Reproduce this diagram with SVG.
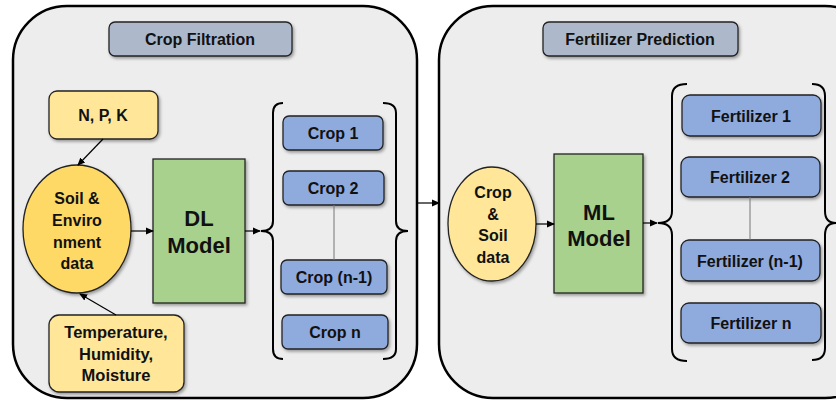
<svg xmlns="http://www.w3.org/2000/svg" width="836" height="400" viewBox="0 0 836 400">
<defs>
<style>
text{font-family:"Liberation Sans",Arial,sans-serif;font-weight:bold;fill:#111;text-anchor:middle}
.panel{fill:#EDEDED;stroke:#000;stroke-width:2.5}
.title{fill:#ADB9CA;stroke:#222;stroke-width:1.3}
.ybox{fill:#FFE699;stroke:#222;stroke-width:1.3}
.blue{fill:#8FAADC;stroke:#222;stroke-width:1.3}
.green{fill:#A9D18E;stroke:#222;stroke-width:1.3}
.brace{fill:none;stroke:#000;stroke-width:2}
.conn{stroke:#000;stroke-width:1.2;fill:none}
.thin{stroke:#777;stroke-width:1;fill:none}
.t16{font-size:16px}
.t165{font-size:16.5px}
.big{font-size:22px}
</style>
<filter id="sh" x="-20%" y="-20%" width="140%" height="150%">
<feDropShadow dx="1.5" dy="2" stdDeviation="1.5" flood-color="#000" flood-opacity="0.35"/>
</filter>
<marker id="ar" markerWidth="8" markerHeight="8" refX="7" refY="4" orient="auto" markerUnits="userSpaceOnUse">
<path d="M0,0.5 L8,4 L0,7.5 Z" fill="#000"/>
</marker>
</defs>

<g id="panel-left"><rect class="panel" x="13" y="6" width="404" height="392" rx="54"/></g>
<g id="panel-right"><rect class="panel" x="439" y="6" width="440" height="392" rx="54"/></g>

<g id="title-crop"><rect class="title" filter="url(#sh)" x="109" y="22" width="183" height="34" rx="6"/><text class="t16" x="200" y="45">Crop Filtration</text></g>
<g id="title-fert"><rect class="title" filter="url(#sh)" x="543" y="22" width="195" height="34" rx="6"/><text class="t16" x="640" y="45">Fertilizer Prediction</text></g>

<g id="npk"><rect class="ybox" filter="url(#sh)" x="49" y="91" width="109" height="48" rx="8"/><text class="t16" x="103" y="121">N, P, K</text></g>

<g id="soil-env"><ellipse fill="#FFD966" stroke="#222" stroke-width="1.3" filter="url(#sh)" cx="77" cy="229" rx="54" ry="64"/>
<text class="t16" x="77" y="204">Soil &amp;</text><text class="t16" x="77" y="226">Enviro</text><text class="t16" x="77" y="248">nment</text><text class="t16" x="77" y="269">data</text></g>

<g id="temp"><rect class="ybox" filter="url(#sh)" x="49" y="315" width="135" height="77" rx="10"/>
<text class="t165" x="116" y="338">Temperature,</text><text class="t165" x="116" y="360">Humidity,</text><text class="t165" x="116" y="381">Moisture</text></g>

<g id="dl"><rect class="green" filter="url(#sh)" x="153" y="159" width="92" height="144"/>
<text class="big" x="199" y="226">DL</text><text class="big" x="199" y="253">Model</text></g>

<g id="crop1"><rect class="blue" filter="url(#sh)" x="283" y="116" width="100" height="34" rx="6"/><text class="t16" x="333" y="139">Crop 1</text></g>
<g id="crop2"><rect class="blue" filter="url(#sh)" x="283" y="171" width="101" height="34" rx="6"/><text class="t16" x="333" y="194">Crop 2</text></g>
<g id="cropn1"><rect class="blue" filter="url(#sh)" x="281" y="260" width="106" height="34" rx="6"/><text class="t16" x="334" y="283">Crop (n-1)</text></g>
<g id="cropn"><rect class="blue" filter="url(#sh)" x="282" y="315" width="106" height="34" rx="6"/><text class="t16" x="335" y="338">Crop n</text></g>

<g id="crop-soil"><ellipse fill="#FFE699" stroke="#222" stroke-width="1.3" filter="url(#sh)" cx="492" cy="224" rx="44" ry="57"/>
<text class="t16" x="493" y="198">Crop</text><text class="t16" x="493" y="220">&amp;</text><text class="t16" x="493" y="241">Soil</text><text class="t16" x="493" y="263">data</text></g>

<g id="ml"><rect class="green" filter="url(#sh)" x="554" y="154" width="89" height="139"/>
<text class="big" x="599" y="220">ML</text><text class="big" x="599" y="246">Model</text></g>

<g id="fert1"><rect class="blue" filter="url(#sh)" x="682" y="95" width="139" height="41" rx="8"/><text class="t16" x="751" y="122">Fertilizer 1</text></g>
<g id="fert2"><rect class="blue" filter="url(#sh)" x="681" y="157" width="139" height="40" rx="8"/><text class="t16" x="750" y="183">Fertilizer 2</text></g>
<g id="fertn1"><rect class="blue" filter="url(#sh)" x="681" y="240" width="139" height="41" rx="8"/><text class="t16" x="750" y="267">Fertilizer (n-1)</text></g>
<g id="fertn"><rect class="blue" filter="url(#sh)" x="681" y="303" width="140" height="40" rx="8"/><text class="t16" x="751" y="329">Fertilizer n</text></g>

<g id="braces">
<path class="brace" d="M283,103 Q273,103 273,113 L273,221 Q273,231 261,231 Q273,231 273,241 L273,349 Q273,359 283,359"/>
<path class="brace" d="M383,103 Q396,103 396,113 L396,221 Q396,231 408,231 Q396,231 396,241 L396,349 Q396,359 383,359"/>
<path class="brace" d="M687,84 Q672,84 672,96 L672,211 Q672,223 658,223 Q672,223 672,235 L672,349 Q672,361 687,361"/>
<path class="brace" d="M812,84 Q825,84 825,96 L825,211 Q825,223 836,223 Q825,223 825,235 L825,348 Q825,360 812,360"/>
</g>

<g id="connectors">
<line class="conn" x1="103" y1="139" x2="78" y2="165" marker-end="url(#ar)"/>
<line class="conn" x1="116" y1="315" x2="80" y2="294" marker-end="url(#ar)"/>
<line class="conn" x1="131" y1="231" x2="153" y2="231" marker-end="url(#ar)"/>
<line class="conn" x1="245" y1="231" x2="260" y2="231" marker-end="url(#ar)"/>
<line class="conn" x1="417" y1="203" x2="439" y2="203" marker-end="url(#ar)"/>
<line class="conn" x1="536" y1="224" x2="554" y2="224" marker-end="url(#ar)"/>
<line class="conn" x1="643" y1="223" x2="657" y2="223" marker-end="url(#ar)"/>
<line class="thin" x1="334" y1="205" x2="334" y2="260"/>
<line class="thin" x1="750" y1="197" x2="750" y2="240"/>
</g>
</svg>
